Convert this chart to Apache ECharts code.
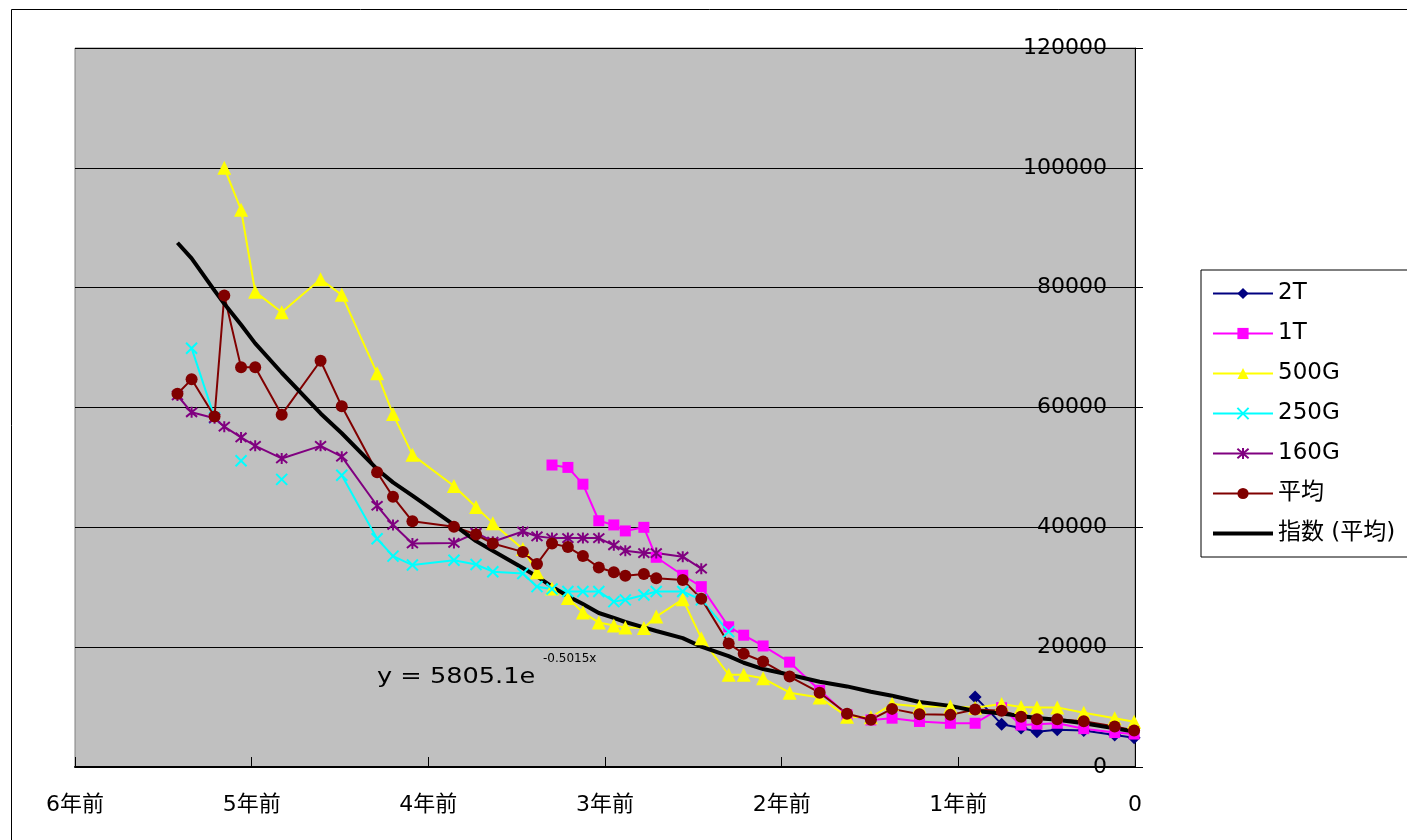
<!DOCTYPE html>
<html>
<head>
<meta charset="utf-8">
<script src="https://cdn.jsdelivr.net/npm/echarts@6/dist/echarts.min.js"></script>
<style>
html,body{margin:0;padding:0;background:#fff;}
#chart{width:1407px;height:840px;}
</style>
</head>
<body>
<div id="chart"></div>
<script>
// x positions: years before present
const yearsAgo = [5.42, 5.34, 5.21, 5.155, 5.06, 4.98, 4.83, 4.61, 4.49, 4.29, 4.20, 4.09, 3.855, 3.73, 3.635, 3.465, 3.385, 3.30, 3.21, 3.125, 3.035, 2.95, 2.885, 2.78, 2.71, 2.56, 2.455, 2.30, 2.215, 2.105, 1.955, 1.785, 1.63, 1.495, 1.375, 1.22, 1.045, 0.905, 0.755, 0.645, 0.555, 0.44, 0.29, 0.115, 0.005];

const s2T = [null,null,null,null,null,null,null,null,null,null, null,null,null,null,null,null,null,null,null,null, null,null,null,null,null,null,null,null,null,null, null,null,null,null,null,null,null,11700,7150,6500, 5900,6200,6100,5350,4900];

const s1T = [null,null,null,null,null,null,null,null,null,null, null,null,null,null,null,null,null,50400,50000,47200, 41100,40400,39400,40000,35000,32000,30100,23400,22000,20200, 17500,12800,8700,7850,8150,7600,7300,7300,9900,7000, 7150,7300,6400,5750,5500];

const s500G = [null,null,null,100000,93000,79300,75900,81400,78800,65700, 58900,52100,46900,43400,40700,36400,32500,29800,28200,25800, 24100,23600,23300,23200,25100,28000,21500,15400,15400,14800, 12400,11600,8400,8300,10500,10100,10100,9900,10500,10000, 9950,9950,9050,8150,7550];

const s250G = [null,69900,58300,null,51100,null,48000,null,48700,38100, 35200,33700,34500,33800,32600,32300,30100,29700,29300,29300, 29300,27600,27900,28700,29300,29300,27900,22600,null,null, null,null,null,null,null,null,null,null,null,null, null,null,null,null,null];

const s160G = [62000,59200,58200,56800,55000,53600,51500,53600,51800,43600, 40400,37300,37400,39100,37600,39300,38500,38200,38200,38200, 38200,37000,36100,35700,35700,35100,33100,null,null,null, null,null,null,null,null,null,null,null,null,null, null,null,null,null,null];

const sAvg = [62300,64700,58500,78700,66700,66700,58800,67800,60200,49200, 45100,41000,40100,38800,37300,35900,33900,37300,36700,35200, 33300,32500,31900,32200,31500,31200,28100,20600,18900,17600, 15100,12400,8900,7900,9700,8800,8700,9600,9400,8400, 7950,7950,7650,6750,6100];

const sTrend = [87500,84900,79500,77300,73800,70700,65800,59000,55700,49700, 47500,45300,40400,37700,36100,33200,31800,30100,28500,27200, 25700,24900,24200,23300,22700,21500,20100,18500,17400,16350, 15400,14240,13450,12550,11900,10850,10200,9350,8930,8500, 8180,7880,7300,6450,5920];

const seriesNames = ['2T', '1T', '500G', '250G', '160G', '平均', '指数 (平均)'];
const xTickLabels = ['0', '1年前', '2年前', '3年前', '4年前', '5年前', '6年前'];
const trendEquation = 'y = 5805.1e';
const trendExponent = '-0.5015x';

function pts(arr) {
  return yearsAgo.map((x, i) => [x, arr[i] == null ? '-' : arr[i]]);
}

const FONT = '"DejaVu Sans", "Noto Sans CJK JP", sans-serif';
const chart = echarts.init(document.getElementById('chart'));

function lineSeries(name, data, color, symbol, size, extra) {
  return Object.assign({
    name: name,
    type: 'line',
    data: pts(data),
    symbol: symbol,
    symbolSize: size,
    connectNulls: false,
    lineStyle: { color: color, width: 2 },
    itemStyle: { color: color },
    animation: false
  }, extra || {});
}

const crossPath = 'path://M0,0L10,10M10,0L0,10';
const starPath = 'path://M0,0L10,10M10,0L0,10M5,-1L5,11';

chart.setOption({
  animation: false,
  backgroundColor: '#ffffff',
  textStyle: { fontFamily: FONT },
  grid: {
    left: 75, right: 272, top: 48, bottom: 73,
    show: true, backgroundColor: '#C0C0C0', borderColor: '#808080', borderWidth: 1
  },
  xAxis: {
    type: 'value', min: 0, max: 6, interval: 1, inverse: true,
    axisLine: { lineStyle: { color: '#000', width: 2 } },
    axisTick: { inside: true, length: 10, lineStyle: { color: '#000' } },
    splitLine: { show: false },
    axisLabel: {
      margin: 27, fontSize: 22, color: '#000', fontFamily: FONT,
      formatter: v => xTickLabels[Math.round(v)]
    }
  },
  yAxis: {
    type: 'value', position: 'right', min: 0, max: 120000, interval: 20000,
    axisLine: { show: true, lineStyle: { color: '#000', width: 1 } },
    axisTick: { show: true, inside: false, length: 8, lineStyle: { color: '#000' } },
    splitLine: { show: true, lineStyle: { color: '#000', width: 1 } },
    axisLabel: { inside: true, margin: 28, fontSize: 22, color: '#000', fontFamily: FONT,
      formatter: v => String(v) }
  },
  legend: {
    orient: 'vertical', left: 1201, top: 270,
    data: [
      { name: seriesNames[0] }, { name: seriesNames[1] }, { name: seriesNames[2] },
      { name: seriesNames[3] }, { name: seriesNames[4] }, { name: seriesNames[5] },
      { name: seriesNames[6],
        itemStyle: { color: 'rgba(0,0,0,0)', borderWidth: 0, opacity: 0 },
        lineStyle: { color: '#000', width: 4 } }
    ],
    backgroundColor: '#fff', borderColor: '#000', borderWidth: 1,
    padding: [12, 16, 12, 10],
    itemWidth: 60, itemHeight: 14, itemGap: 17,
    textStyle: { fontSize: 23, lineHeight: 22, color: '#000', fontFamily: FONT }
  },
  graphic: [
    { type: 'rect', left: 9, top: 7, silent: true, z: -10,
      shape: { x: 0, y: 0, width: 1500, height: 1000 },
      style: { fill: 'none', stroke: '#000', lineWidth: 1 } },
    { type: 'text', x: 377, y: 667, scaleX: 1.22, z: 100,
      style: { text: trendEquation, fill: '#000', font: '21px "DejaVu Sans"' } },
    { type: 'text', x: 543, y: 653, z: 100,
      style: { text: trendExponent, fill: '#000', font: '12px "DejaVu Sans"' } }
  ],
  series: [
    lineSeries(seriesNames[0], s2T, '#000080', 'diamond', 13),
    lineSeries(seriesNames[1], s1T, '#FF00FF', 'rect', 11),
    lineSeries(seriesNames[2], s500G, '#FFFF00', 'triangle', 14),
    lineSeries(seriesNames[3], s250G, '#00FFFF', crossPath, 11,
      { itemStyle: { color: '#00FFFF', borderColor: '#00FFFF', borderWidth: 2 } }),
    lineSeries(seriesNames[4], s160G, '#800080', starPath, 11,
      { itemStyle: { color: '#800080', borderColor: '#800080', borderWidth: 2 } }),
    lineSeries(seriesNames[5], sAvg, '#800000', 'circle', 12),
    {
      name: seriesNames[6], type: 'line', data: pts(sTrend),
      symbol: 'none', showSymbol: false,
      lineStyle: { color: '#000', width: 4 },
      itemStyle: { color: '#000' },
      z: 3, animation: false
    }
  ]
});
</script>
</body>
</html>
